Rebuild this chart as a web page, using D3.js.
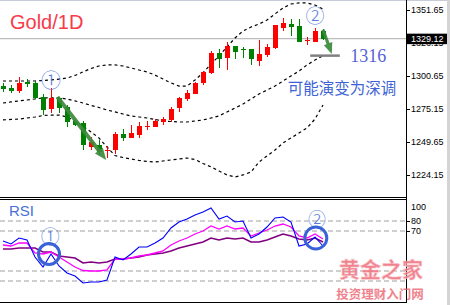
<!DOCTYPE html>
<html><head><meta charset="utf-8">
<script src="https://cdn.jsdelivr.net/npm/d3@7"></script>
<style>html,body{margin:0;padding:0;background:#fff;overflow:hidden}</style>
</head><body><svg id="c" width="450" height="305"></svg>
<script>
// ---- data ----
const openP  = [1292.5,1291.0,1288.7,1295.6,1294.9,1284.0,1274.8,1283.3,1276.3,1265.5,1263.9,1245.4,1246.9,1242.3,1243.1,1255.4,1252.4,1254.7,1260.9,1260.9,1264.7,1266.3,1275.5,1282.5,1286.4,1294.9,1302.6,1318.0,1314.2,1323.4,1321.1,1321.1,1311.9,1316.5,1321.9,1337.4,1340.4,1338.9,1327.3,1326.5,1335.0];
const highP  = [1294.9,1293.3,1299.5,1298.0,1296.4,1286.4,1291.0,1284.0,1277.9,1267.0,1265.5,1253.1,1250.8,1246.2,1257.0,1259.3,1262.4,1264.7,1265.5,1267.0,1268.6,1276.3,1284.0,1289.5,1295.6,1304.1,1319.6,1321.1,1326.5,1323.4,1322.7,1321.1,1328.1,1325.0,1339.7,1345.1,1344.3,1344.3,1330.4,1337.4,1336.6];
const lowP   = [1287.9,1287.1,1287.1,1291.8,1282.5,1270.1,1271.7,1271.7,1260.9,1261.6,1243.1,1243.1,1239.2,1236.9,1240.0,1250.0,1252.4,1252.4,1258.5,1260.9,1262.4,1264.7,1272.5,1281.0,1286.4,1293.3,1301.8,1306.5,1304.9,1313.4,1314.2,1308.8,1308.0,1315.0,1321.1,1335.0,1331.2,1326.5,1324.2,1326.5,1328.1];
const closeP = [1290.2,1288.7,1294.9,1294.1,1283.3,1274.0,1283.3,1275.5,1264.7,1262.4,1246.9,1249.3,1241.5,1243.1,1255.4,1252.4,1256.2,1261.6,1261.6,1265.5,1267.0,1274.8,1283.3,1287.1,1294.9,1303.4,1318.0,1313.4,1323.4,1318.8,1320.4,1313.4,1317.3,1322.7,1339.7,1341.2,1338.1,1326.5,1328.1,1335.0,1329.12];
const bandUpper = [1296.4,1296.4,1296.4,1296.4,1296.4,1296.8,1297.2,1297.9,1298.7,1300.7,1303.4,1306.1,1308.0,1308.8,1308.8,1308.0,1306.5,1304.9,1303.4,1301.0,1297.9,1294.9,1292.5,1292.5,1297.2,1302.6,1309.5,1315.7,1322.7,1329.6,1335.0,1338.1,1340.4,1343.5,1348.2,1352.8,1355.9,1356.7,1356.7,1355.1,1352.0];
const bandMid   = [1279.4,1280.2,1281.0,1281.7,1282.5,1283.3,1283.3,1283.3,1282.5,1281.0,1279.4,1277.5,1275.9,1274.0,1272.5,1270.9,1269.4,1268.6,1267.8,1266.7,1265.5,1265.1,1264.7,1264.7,1265.5,1266.3,1267.8,1269.4,1272.5,1275.5,1278.6,1282.5,1286.4,1289.4,1292.5,1296.4,1300.3,1304.1,1308.8,1312.6,1316.0];
const bandLower = [1266.3,1266.7,1267.0,1267.8,1268.6,1269.7,1270.1,1270.1,1268.6,1265.5,1261.6,1257.0,1252.4,1245.4,1238.8,1237.3,1236.1,1235.0,1234.2,1233.8,1234.6,1235.4,1236.1,1236.9,1235.7,1232.7,1230.0,1226.9,1223.8,1222.2,1223.8,1226.1,1233.8,1238.5,1243.1,1248.5,1252.4,1256.2,1260.1,1267.0,1277.9];
const rsiBlue    = [60,57,63,61,44,34,47,35,28,25,18,19,19,21,44,41,47,54,54,58,63,73,79,82,86,89,93,82,85,79,80,63,67,74,83,84,79,55,57,64,55];
const rsiMagenta = [56,55,58,58,48,47,49,44,39,34,30.5,30,30,31,42,42,43,45,46,48,50,56,60,63,67,70,75,72,75,72,73,65,68,71,75,77,74,65,63,67,62];
const rsiPurple  = [52,52,53,53,53,49,49,45,44,43,38,39,38,39,42,42,43,44,46,47,48,50,53,55,57,59,63,61,63,62,63,59,59,61,64,67,65,62,61,63,59];
const priceTicks = [1351.65,1326.15,1300.65,1275.15,1249.65,1224.15];
const lastPrice = 1329.12;
const rsiTickLabels = [100,80,70];
const rsiLevels = [80,70,30,20];
const targetPrice = 1316;
const titleText = "Gold/1D";
const noteText = "可能演变为深调";

// ---- layout ----
const svg = d3.select("#c");
const axisX = 406;
const x = d3.scaleLinear().domain([0,40]).range([3,323]);
const yP = d3.scaleLinear().domain([1224.15,1351.65]).range([174.5,9.5]);
const yR = d3.scaleLinear().domain([0,100]).range([301,201]);
const idx = d3.range(openP.length);

// frame
svg.append("line").attr("x1",0).attr("x2",450).attr("y1",0.5).attr("y2",0.5).attr("stroke","#c8ccd8");
svg.append("rect").attr("x",447).attr("y",0).attr("width",3).attr("height",305).attr("fill","#d4d4d4");

const defs = svg.append("defs");
defs.append("clipPath").attr("id","cm").append("rect").attr("x",0).attr("y",1).attr("width",axisX).attr("height",196);
defs.append("clipPath").attr("id","cr").append("rect").attr("x",0).attr("y",200).attr("width",axisX).attr("height",102);

// last price line
svg.append("line").attr("x1",0).attr("x2",axisX).attr("y1",yP(lastPrice)).attr("y2",yP(lastPrice))
  .attr("stroke","#bdbdbd").attr("stroke-width",1.3);

const gm = svg.append("g").attr("clip-path","url(#cm)");
// bollinger bands
[bandUpper,bandMid,bandLower].forEach(b=>{
  gm.append("path").datum(b)
    .attr("d", d3.line().x((d,i)=>x(i)).y(d=>yP(d)))
    .attr("fill","none").attr("stroke","#000").attr("stroke-width",1.2).attr("stroke-dasharray","3,3");
});
// candles
const cg = gm.append("g").attr("shape-rendering","crispEdges");
idx.forEach(i=>{
  const up = closeP[i] >= openP[i];
  const col = up ? "#ff0000" : "#008000";
  const cx = Math.round(x(i));
  cg.append("rect").attr("x",cx).attr("width",1)
    .attr("y",yP(highP[i])).attr("height",yP(lowP[i])-yP(highP[i])).attr("fill",col);
  const top = yP(Math.max(openP[i],closeP[i])), bot = yP(Math.min(openP[i],closeP[i]));
  cg.append("rect").attr("x",cx-2).attr("width",5)
    .attr("y",top).attr("height",Math.max(1.2,bot-top)).attr("fill",col);
});

function arrow(g,x1,y1,x2,y2,sw,hl,hw,col){
  const dx=x2-x1, dy=y2-y1, L=Math.hypot(dx,dy), ux=dx/L, uy=dy/L, px=-uy, py=ux;
  const bx=x2-ux*hl, by=y2-uy*hl;
  g.append("line").attr("x1",x1).attr("y1",y1).attr("x2",bx+ux*1).attr("y2",by+uy*1)
    .attr("stroke",col).attr("stroke-width",sw).attr("opacity",0.92);
  g.append("path").attr("d",`M${x2},${y2}L${bx+px*hw/2},${by+py*hw/2}L${bx-px*hw/2},${by-py*hw/2}Z`)
    .attr("fill",col).attr("opacity",0.92);
}
// annotation arrows (anchored in data space)
arrow(gm, x(6.8), yP(1284.0), x(12.9), yP(1235.4), 4, 12, 10, "#3c8a3c");
arrow(gm, x(40), yP(1336.0), x(41.1), yP(1317.3), 3.2, 11, 9, "#3c8a3c");

// 1316 target line + label
svg.append("line").attr("x1",x(38.4)).attr("x2",x(42.1)).attr("y1",yP(targetPrice)).attr("y2",yP(targetPrice))
  .attr("stroke","#808080").attr("stroke-width",2.5);
svg.append("text").attr("x",x(43.4)).attr("y",yP(targetPrice)+6.5).text(String(targetPrice))
  .attr("font-family","Liberation Serif").attr("font-size",18).attr("fill","#5562d6");
svg.append("text").attr("x",x(35.6)).attr("y",yP(1286)).text(noteText)
  .attr("font-family","Noto Sans CJK SC").attr("font-size",15.5).attr("fill","#3d63d6");

// circled numbers
function circ(txt,cx,cy,fs){
  svg.append("text").attr("x",cx).attr("y",cy).attr("text-anchor","middle").attr("dominant-baseline","central")
    .attr("font-family","Noto Sans CJK SC").attr("font-weight",300).attr("font-size",fs).attr("fill","#5b7fe0").text(txt);
}
circ("①", x(6), yP(1297.9), 20);
circ("②", x(39), yP(1347.6), 19);

// title
svg.append("text").attr("x",10).attr("y",28.5).text(titleText)
  .attr("font-family","Liberation Sans").attr("font-size",20).attr("fill","#f83a4a");

// panel separators
[197.5,199.5].forEach(yy=>svg.append("line").attr("x1",0).attr("x2",axisX).attr("y1",yy).attr("y2",yy).attr("stroke","#000"));
svg.append("line").attr("x1",0).attr("x2",axisX).attr("y1",302.5).attr("y2",302.5).attr("stroke","#000");
svg.append("line").attr("x1",axisX+0.5).attr("x2",axisX+0.5).attr("y1",0).attr("y2",303).attr("stroke","#000");

// price axis
priceTicks.forEach(t=>{
  svg.append("line").attr("x1",axisX).attr("x2",axisX+4).attr("y1",Math.round(yP(t))+0.5).attr("y2",Math.round(yP(t))+0.5).attr("stroke","#000");
  svg.append("text").attr("x",411).attr("y",yP(t)+3.3).text(t.toFixed(2))
    .attr("font-family","Liberation Sans").attr("font-size",9).attr("fill","#000");
});
svg.append("rect").attr("x",axisX).attr("y",yP(lastPrice)-5).attr("width",41).attr("height",10.5).attr("fill","#000");
svg.append("text").attr("x",411).attr("y",yP(lastPrice)+3.3).text(lastPrice.toFixed(2))
  .attr("font-family","Liberation Sans").attr("font-size",9).attr("fill","#fff");

// RSI panel
const gr = svg.append("g").attr("clip-path","url(#cr)");
rsiLevels.forEach(l=>{
  gr.append("line").attr("x1",0).attr("x2",axisX).attr("y1",yR(l)).attr("y2",yR(l))
    .attr("stroke","#c0c0c0").attr("stroke-width",1.4).attr("stroke-dasharray","5,3");
});
[[rsiPurple,"#800080",1.6],[rsiMagenta,"#ff00ff",1.3],[rsiBlue,"#0000ff",1.1]].forEach(([s,c,w])=>{
  gr.append("path").datum(s).attr("d",d3.line().x((d,i)=>x(i)).y(d=>yR(d)))
    .attr("fill","none").attr("stroke",c).attr("stroke-width",w);
});
rsiTickLabels.forEach(v=>{
  const yy = yR(v);
  if(v<100) svg.append("line").attr("x1",axisX).attr("x2",axisX+4).attr("y1",Math.round(yy)+0.5).attr("y2",Math.round(yy)+0.5).attr("stroke","#000");
  svg.append("text").attr("x",411).attr("y",Math.max(yy,yR(100)+6)+3.3).text(v)
    .attr("font-family","Liberation Sans").attr("font-size",9).attr("fill","#000");
});
svg.append("text").attr("x",9).attr("y",215.5).text("RSI")
  .attr("font-family","Liberation Sans").attr("font-size",15).attr("fill","#4a6fd8");
circ("①", x(5.9), yR(66), 19);
circ("②", x(39.25), yR(83), 18);
[[5.75,47,10.5],[39.1,63,11]].forEach(([i,v,r])=>{
  svg.append("circle").attr("cx",x(i)).attr("cy",yR(v)).attr("r",r)
    .attr("fill","none").attr("stroke","#3a62d8").attr("stroke-width",3);
});

// watermark
svg.append("text").attr("x",381).attr("y",277).attr("text-anchor","middle").text("黄金之家")
  .attr("font-family","Noto Sans CJK SC").attr("font-weight",700).attr("font-size",21)
  .attr("fill","#f07582").attr("stroke","#f9c3c9").attr("stroke-width",0.6).attr("opacity",0.9);
svg.append("text").attr("x",380).attr("y",298.5).attr("text-anchor","middle").text("投资理财入门网")
  .attr("font-family","Noto Sans CJK SC").attr("font-weight",700).attr("font-size",12.5)
  .attr("fill","#ea5a68").attr("opacity",0.75);
</script></body></html>
